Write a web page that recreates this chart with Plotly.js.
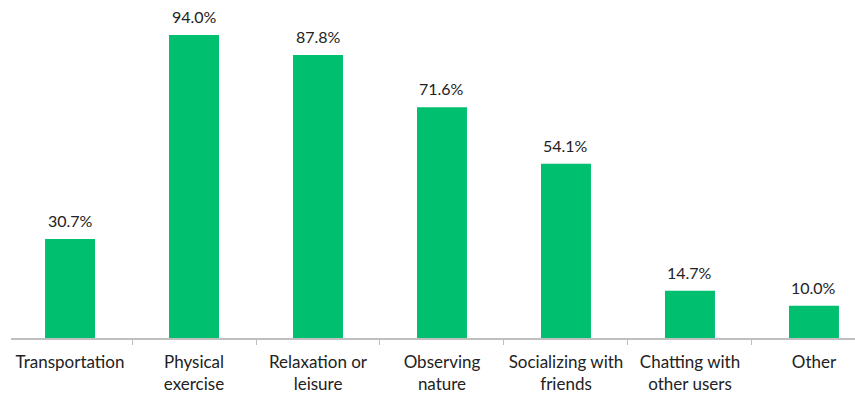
<!DOCTYPE html>
<html>
<head>
<meta charset="utf-8">
<script src="https://cdn.plot.ly/plotly-3.0.1.min.js"></script>
<style>html,body{margin:0;padding:0;background:#fff;}#chart{width:855px;height:396px;}</style>
</head>
<body>
<div id="chart"></div>
<script>
const categories = ["Transportation", "Physical<br>exercise", "Relaxation or<br>leisure", "Observing<br>nature", "Socializing with<br>friends", "Chatting with<br>other users", "Other"];
const values = [30.7, 94.0, 87.8, 71.6, 54.1, 14.7, 10.0];
const valueLabels = values.map(v => v.toFixed(1) + "%");

const FONT = "Lato, 'Noto Sans', sans-serif";

const trace = {
  type: "bar",
  x: categories,
  y: values,
  marker: { color: "#00BF6F" },
  width: 0.403,
  hoverinfo: "skip"
};

const annotations = categories.map((c, i) => ({
  x: c, y: values[i], text: valueLabels[i],
  xref: "x", yref: "y", showarrow: false,
  yanchor: "bottom", yshift: 7,
  font: { family: FONT, size: 16, color: "#222" }
}));

const layout = {
  width: 855, height: 396,
  margin: { l: 11, r: 0, t: 0, b: 58 },
  paper_bgcolor: "#fff", plot_bgcolor: "#fff",
  showlegend: false,
  xaxis: {
    type: "category",
    range: [-0.476, 6.331],
    showline: true, linecolor: "#BFBFBF", linewidth: 1.5,
    ticks: "outside", tickson: "boundaries", ticklen: 5, tickcolor: "#BFBFBF", tickwidth: 1,
    ticklabelstandoff: 8,
    tickfont: { family: FONT, size: 17, color: "#222" },
    showgrid: false, zeroline: false, fixedrange: true
  },
  yaxis: {
    range: [0, 104.9], visible: false, showgrid: false, zeroline: false
  },
  annotations: annotations
};

Plotly.newPlot("chart", [trace], layout, { staticPlot: true, displayModeBar: false });
</script>
</body>
</html>
